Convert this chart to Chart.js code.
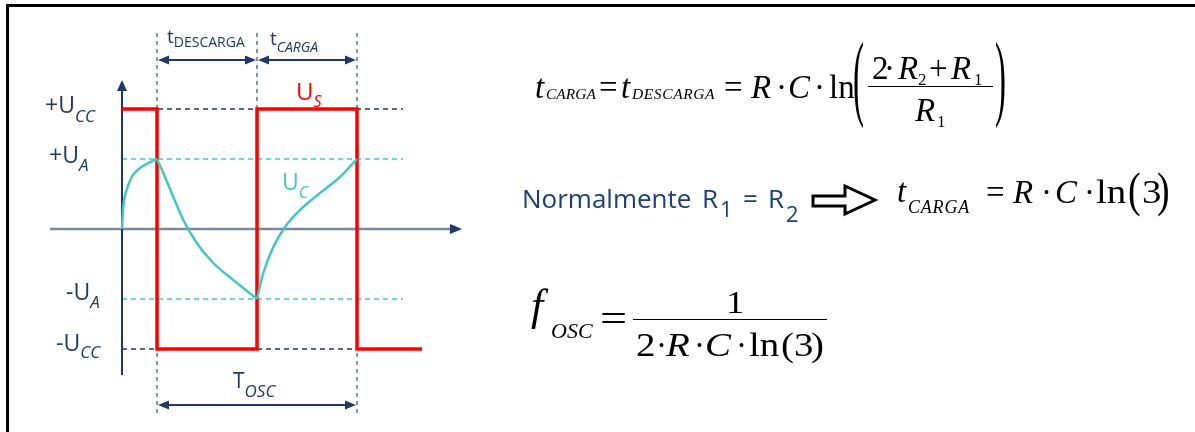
<!DOCTYPE html>
<html>
<head>
<meta charset="utf-8">
<script src="https://cdn.jsdelivr.net/npm/chart.js@4.4.1/dist/chart.umd.min.js"></script>
<style>
  body { margin: 0; background: #fff; }
  #wrap { position: relative; width: 1195px; height: 432px; overflow: hidden; background: #fff; }
  #box { position: absolute; left: 6px; top: 4px; width: 1300px; height: 500px; border-top: 3px solid #000; border-left: 3px solid #000; }
  #chartBox { position: absolute; left: 0; top: 0; width: 1195px; height: 432px; }
  .tk { position: absolute; white-space: nowrap; color: #000; }
  .bar { position: absolute; background: #000; height: 1.5px; }
</style>
</head>
<body>
<div id="wrap">
  <div id="box"></div>
  <div id="chartBox"><canvas id="cv"></canvas></div>
  <svg style="position:absolute;left:0;top:0" width="1195" height="432">
    <polygon points="813,196 845,196 845,186 875,200 845,214 845,206 813,206" fill="#fff" stroke="#000" stroke-width="3" stroke-linejoin="miter"/>
  </svg>
</div>
<script>
// niveles de tension (V) y tiempos de conmutacion (en semiperiodos)
const UCC = 12;
const UA = 7;
const switchTimes = [0.35, 1.35, 2.35];

// salida del comparador Us
const usTime = [0, 0.35, 0.35, 1.35, 1.35, 2.35, 2.35, 3.0];
const usVolt = [12, 12, -12, -12, 12, 12, -12, -12];

// tension del condensador Uc (tres tramos)
const ucTime1 = [0, 0.013, 0.047, 0.097, 0.18, 0.263, 0.35];
const ucVolt1 = [0, 2.2, 3.9, 5.2, 6.1, 6.6, 7.0];
const ucTime2 = [0.35, 0.413, 0.513, 0.613, 0.747, 0.913, 1.113, 1.35];
const ucVolt2 = [7, 5.6, 3.2, 0.9, -1.4, -3.4, -5.1, -7];
const ucTime3 = [1.35, 1.413, 1.513, 1.63, 1.78, 1.98, 2.18, 2.35];
const ucVolt3 = [-7, -4.4, -1.8, 0.2, 1.9, 3.6, 5.2, 7];

// etiquetas del eje vertical
const levelLabels = [
  { level: UCC, main: "+U", sub: "CC" },
  { level: UA, main: "+U", sub: "A" },
  { level: -UA, main: "-U", sub: "A" },
  { level: -UCC, main: "-U", sub: "CC" },
];

const navy = "#1f3864";
const teal = "#45c6c6";
const red = "#ff0000";
const sans = '"Open Sans", sans-serif';

function pts(xs, ys) {
  return xs.map((x, i) => ({ x: x, y: ys[i] }));
}

function arrowHead(ctx, x, y, dir, len, half) {
  ctx.beginPath();
  if (dir == "up") {
    ctx.moveTo(x, y); ctx.lineTo(x - half, y + len); ctx.lineTo(x + half, y + len);
  } else if (dir == "right") {
    ctx.moveTo(x, y); ctx.lineTo(x - len, y - half); ctx.lineTo(x - len, y + half);
  } else {
    ctx.moveTo(x, y); ctx.lineTo(x + len, y - half); ctx.lineTo(x + len, y + half);
  }
  ctx.closePath();
  ctx.fill();
}

function line(ctx, x1, y1, x2, y2) {
  ctx.beginPath();
  ctx.moveTo(x1, y1);
  ctx.lineTo(x2, y2);
  ctx.stroke();
}

function subText(ctx, main, sub, x, base, subBase, size, subSize, color, upright) {
  ctx.fillStyle = color;
  ctx.font = size + "px " + sans;
  ctx.fillText(main, x, base);
  let w = ctx.measureText(main).width;
  ctx.font = (upright ? "" : "italic ") + subSize + "px " + sans;
  ctx.fillText(sub, x + w, subBase);
}

const overlay = {
  id: "overlay",
  beforeDatasetsDraw(chart) {
    const ctx = chart.ctx;
    const xs = chart.scales.x;
    const ys = chart.scales.y;
    const area = chart.chartArea;
    const x0 = xs.getPixelForValue(0);
    const y0 = ys.getPixelForValue(0);
    const xEnd = xs.getPixelForValue(2.81);
    ctx.save();
    // lineas de nivel discontinuas
    ctx.lineWidth = 1.5;
    ctx.setLineDash([5, 4]);
    ctx.strokeStyle = navy;
    [UCC, -UCC].forEach((v) => line(ctx, x0, ys.getPixelForValue(v), xEnd, ys.getPixelForValue(v)));
    ctx.strokeStyle = teal;
    [UA, -UA].forEach((v) => line(ctx, x0, ys.getPixelForValue(v), xEnd, ys.getPixelForValue(v)));
    // verticales discontinuas
    ctx.strokeStyle = "#4a5a78";
    ctx.lineWidth = 1.3;
    ctx.setLineDash([4, 4]);
    switchTimes.forEach((t, i) => {
      let px = xs.getPixelForValue(t);
      let bottom = i == 1 ? ys.getPixelForValue(-UCC) : ys.getPixelForValue(-18.6);
      line(ctx, px, ys.getPixelForValue(19.6), px, bottom);
    });
    ctx.setLineDash([]);
    // eje x
    ctx.strokeStyle = "#7d889e";
    ctx.fillStyle = navy;
    ctx.lineWidth = 2.5;
    line(ctx, area.left, y0, area.right - 8, y0);
    arrowHead(ctx, area.right, y0, "right", 12, 5);
    // eje y
    ctx.strokeStyle = navy;
    ctx.lineWidth = 2;
    line(ctx, x0, area.bottom, x0, area.top + 8);
    arrowHead(ctx, x0, area.top, "up", 11, 5);
    ctx.restore();
  },
  afterDatasetsDraw(chart) {
    const ctx = chart.ctx;
    const xs = chart.scales.x;
    const ys = chart.scales.y;
    const px = switchTimes.map((t) => xs.getPixelForValue(t));
    ctx.save();
    // flechas de tiempos
    ctx.strokeStyle = navy;
    ctx.fillStyle = navy;
    ctx.lineWidth = 2;
    const yTop = ys.getPixelForValue(16.9);
    const yBot = ys.getPixelForValue(-17.6);
    [[px[0], px[1], yTop], [px[1], px[2], yTop], [px[0], px[2], yBot]].forEach((a) => {
      line(ctx, a[0] + 8, a[2], a[1] - 8, a[2]);
      arrowHead(ctx, a[0] + 1, a[2], "left", 11, 4.5);
      arrowHead(ctx, a[1] - 1, a[2], "right", 11, 4.5);
    });
    // etiquetas de niveles
    ctx.textBaseline = "alphabetic";
    const lx = [45, 49, 66, 56];
    const off = [[4, 13], [4, 12], [1, 9], [2, 9]];
    levelLabels.forEach((l, i) => {
      let y = ys.getPixelForValue(l.level);
      subText(ctx, l.main, l.sub, lx[i], y + off[i][0], y + off[i][1], 23, 17, navy);
    });
    // etiquetas de tiempos
    subText(ctx, "t", "DESCARGA", px[0] + 10, 43, 47, 19, 14, navy, true);
    subText(ctx, "t", "CARGA", px[1] + 13, 45, 52, 19, 14, navy);
    subText(ctx, "T", "OSC", 233, 388, 397, 21, 17, navy);
    // etiquetas de senales
    subText(ctx, "U", "S", 296, 100, 107, 24, 16, red);
    subText(ctx, "U", "C", 282, 190, 198, 23, 16, teal);
    ctx.restore();
  },
};

new Chart(document.getElementById("cv"), {
  type: "line",
  data: {
    datasets: [
      {
        data: pts(ucTime1, ucVolt1),
        borderColor: teal,
        borderWidth: 2.5,
        pointRadius: 0,
        cubicInterpolationMode: "monotone",
      },
      {
        data: pts(ucTime2, ucVolt2),
        borderColor: teal,
        borderWidth: 2.5,
        pointRadius: 0,
        cubicInterpolationMode: "monotone",
      },
      {
        data: pts(ucTime3, ucVolt3),
        borderColor: teal,
        borderWidth: 2.5,
        pointRadius: 0,
        cubicInterpolationMode: "monotone",
      },
      {
        data: pts(usTime, usVolt),
        borderColor: red,
        borderWidth: 3.5,
        pointRadius: 0,
        tension: 0,
        borderJoinStyle: "miter",
      },
    ],
  },
  options: {
    responsive: true,
    maintainAspectRatio: false,
    animation: false,
    layout: { padding: { left: 50, right: 733, top: 80, bottom: 57 } },
    plugins: { legend: { display: false }, tooltip: { enabled: false } },
    scales: {
      x: { type: "linear", min: -0.72, max: 3.4, display: false },
      y: { min: -14.6, max: 14.9, display: false },
    },
  },
  plugins: [overlay],
});

// formulas como texto
const wrap = document.getElementById("wrap");
function tok(text, x, base, size, o) {
  o = o || {};
  let s = document.createElement("span");
  s.className = "tk";
  s.textContent = text;
  let k = o.sans ? 0.888 : 0.8375;
  s.style.fontFamily = o.sans ? sans : '"Liberation Serif", "Times New Roman", serif';
  s.style.fontSize = size + "px";
  s.style.lineHeight = size + "px";
  if (o.italic) s.style.fontStyle = "italic";
  if (o.color) s.style.color = o.color;
  if (o.ls) s.style.letterSpacing = o.ls + "px";
  s.style.left = x + "px";
  s.style.top = base - k * size + "px";
  if (o.sy || o.sx) {
    s.style.transformOrigin = "0 " + (k - 0.257) * size + "px";
    s.style.transform = "scale(" + (o.sx || 1) + "," + (o.sy || 1) + ")";
  }
  wrap.appendChild(s);
}
function bar(x, y, w) {
  let d = document.createElement("div");
  d.className = "bar";
  d.style.left = x + "px";
  d.style.top = y + "px";
  d.style.width = w + "px";
  wrap.appendChild(d);
}
const it = { italic: true };
const wide = { sx: 1.18 };
const wideIt = { italic: true, sx: 1.18 };

// t_CARGA = t_DESCARGA = R·C·ln((2·R2+R1)/R1)
tok("t", 535, 99, 33, it);
tok("CARGA", 546, 99, 15.5, it);
tok("=", 599, 99, 33);
tok("t", 621, 99, 33, it);
tok("DESCARGA", 632, 99, 15.5, { italic: true, ls: 0.6 });
tok("=", 724, 99, 33);
tok("R", 751, 99, 33, it);
tok("·", 776, 99, 33);
tok("C", 788, 99, 33, it);
tok("·", 814, 99, 33);
tok("ln", 829, 99, 33);
tok("(", 853, 94, 33, { sy: 2.9 });
tok("2", 872, 80, 33);
tok("·", 884, 80, 33);
tok("R", 898, 80, 33, it);
tok("2", 918, 85, 17);
tok("+", 929, 80, 33);
tok("R", 951, 80, 33, it);
tok("1", 974, 85, 17);
bar(868, 85.5, 125);
tok("R", 915, 122, 33, it);
tok("1", 937, 127, 17);
tok(")", 995, 94, 33, { sy: 2.9 });

// Normalmente R1 = R2  =>  t_CARGA = R·C·ln(3)
const blue = { sans: true, color: "#1a3f7a" };
tok("Normalmente", 522, 208, 26, blue);
tok("R", 702, 208, 26, blue);
tok("1", 720, 217, 22, blue);
tok("=", 743, 208, 26, blue);
tok("R", 768, 208, 26, blue);
tok("2", 786, 222, 22, blue);
tok("t", 897, 203, 33, it);
tok("CARGA", 908, 213, 18, { italic: true, ls: 0.8 });
tok("=", 986, 204, 33);
tok("R", 1013, 204, 33, it);
tok("·", 1041, 204, 33);
tok("C", 1055, 204, 33, it);
tok("·", 1084, 204, 33);
tok("ln", 1096, 204, 33, wide);
tok("(", 1128, 202.5, 33, { sy: 1.45, sx: 1.15 });
tok("3", 1142, 204, 33, wide);
tok(")", 1157, 202.5, 33, { sy: 1.45, sx: 1.15 });

// f_OSC = 1 / (2·R·C·ln(3))
tok("f", 531, 321, 44, it);
tok("OSC", 551, 338, 22, it);
tok("=", 600, 332, 40, { sx: 1.2 });
bar(633, 318.5, 194);
tok("1", 726, 313, 31, wide);
tok("2", 636, 357, 33, wide);
tok("·", 656, 357, 33);
tok("R", 666, 357, 33, wideIt);
tok("·", 694, 357, 33);
tok("C", 705, 357, 33, wideIt);
tok("·", 736, 357, 33);
tok("ln", 749, 357, 33, wide);
tok("(", 781, 357, 33, wide);
tok("3", 794, 357, 33, wide);
tok(")", 811, 357, 33, wide);
</script>
</body>
</html>
